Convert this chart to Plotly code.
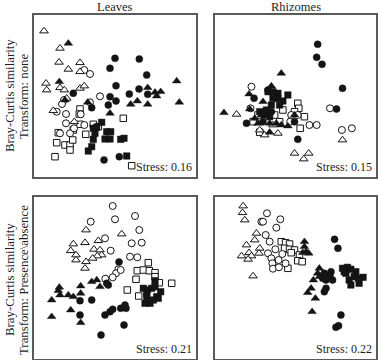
import plotly.graph_objects as go

# ---- data: NMDS ordination scores (axis units 0-162) ----
# Panel: Leaves, transform none
LN_open_tri = [(10,146),(26,128.7),(25,114.7),(34.3,107.7),(46,114.3),(46,105.3),(12,93.7),(12.7,87),
               (26,89.3),(30.3,87),(46,88.7),(50.3,91),(32.7,78.7),(19.3,66.3),(40.3,55.3)]
LN_fill_tri = [(34.3,133.7),(25.3,95.3),(31,77),(53.7,74.7),(76,63.7),(96.7,72.7),(103.3,76),(113.7,89.3),
               (113.7,72.7),(121,84.7),(122.7,81),(126.7,85.3),(142.7,96),(145.3,74.7)]
LN_fill_cir = [(81,118.7),(105.3,118),(76,108.7),(112.7,102),(82,91.3),(39.3,83.7),(57.7,69.3),(76,80.3),
               (95.3,83),(105,88),(113.7,82.7),(82,76),(74.3,72),(70,17),(85.3,20.3)]
LN_open_cir = [(50.3,107),(56,103),(30,77),(28,73),(22.7,65.3),(32,63),(66,80.7),(56,74.7),(32,53.7),
               (36,43.7),(40,48.7),(46.7,62.7),(50.3,52),(26,43.7)]
LN_open_sq = [(46,68),(45.3,63),(46,52.7),(59.3,52.7),(64.3,50.3),(51.7,42.7),(24.3,44.3),(31,32),(36,32),
              (38.7,37),(36,27),(22.7,34.3),(21,20.3),(89.3,58.7),(97.7,11.3),(39.3,47)]
LN_fill_sq = [(67.7,54.7),(62.7,49.7),(59.3,48.7),(61,43.7),(72.7,45.3),(76.7,45.3),(71,38),(76,38),
              (86.7,37.7),(90,38.7),(59.3,37.7),(57.7,30.3),(54.3,26),(92.7,21)]

# Panel: Rhizomes, transform none
RN_fill_cir = [(103.3,132.7),(102.3,119.7),(107.7,112.7),(128.3,88.7),(122.3,68),(83.3,37.7),(39.3,78.7),
               (31.7,53.7),(80,55.3),(53.3,87),(56.7,65.3),(50,65.3),(48.3,55.3)]
RN_fill_tri = [(66.7,103.7),(34.3,83),(9,64.3),(56.7,91),(48.3,75.3),(35,68),(46.7,62),(55,44.7),(73.3,51),
               (66.7,52),(80,62),(43.3,53.7),(61.7,53.7),(55,53.7),(40,58.7)]
RN_fill_sq = [(53.3,85.3),(58.3,85.3),(63.3,83.7),(63.3,78.7),(73.3,82),(68.3,76),(58.3,78.7),(65,72),
              (56.7,72),(51.7,67),(50,62),(55,60.3),(45,65.3)]
RN_open_tri = [(21.7,62.7),(50,42),(63.3,43.7),(80,23.7),(89.3,18),(94.3,23.7),(128.3,37),(45,47),(58.3,52)]
RN_open_cir = [(36.7,90.3),(35.7,68.7),(76.7,62),(83.3,62),(75.7,55.3),(95,52),(102.3,52),(115.7,68.7),
               (127.7,47),(137.7,48.7)]
RN_open_sq = [(83.3,73.7),(84.3,68.7),(68.3,67),(90,60.3),(85.7,48.7),(45,44.7),(38.3,55.3),(43.3,62),
              (65,55.3),(60,62),(80,65.3)]

# Panel: Leaves, transform presence/absence
LP_open_cir = [(78.7,153),(56.7,137.3),(81,139.7),(101,143),(105.3,129),(71,120.7),(97.7,115.7),(107.7,116.3),
               (76.7,108.3),(96,102.3),(103.3,101.7),(84.3,89.7),(82,85.7),(78.7,81.7),(71.3,80.3),(86.7,89)]
LP_open_tri = [(52,129),(87.7,125),(39.3,115),(51,116.3),(64.3,118.3),(36.7,108.3),(42,104),(42,99),
               (60,109.7),(66,109),(67.7,104),(63.3,103),(58.7,100.7),(52,97.3),(51,90.7)]
LP_fill_cir = [(85,97),(74.3,74),(46,58.3),(57.7,59),(46,44),(71,44),(76,47.3),(78.7,49.7),(86.7,50.7),
               (91,54),(92,50.7),(90,34),(67,24),(72.7,75.7)]
LP_fill_tri = [(25.3,71.7),(46.7,73),(57.7,77.3),(62.7,79),(66,72.3),(26,64),(34.3,64),(39.3,62.3),
               (46.7,65.7),(17.7,59),(36.7,49),(17.7,42.3),(46.7,36.3),(24.3,68.3)]
LP_open_sq = [(114.3,96.3),(103.3,88.3),(109.3,89),(115.3,88.3),(121,86.3),(102,79.7),(125.3,76.3),
              (137.7,75.7),(93.3,69),(104.7,63),(114.3,57.3),(121,82.3)]
LP_fill_sq = [(121,78.3),(109.3,70.7),(113.3,69),(117.7,70.7),(121,72.3),(126.7,67.3),(112.7,62.3),
              (122.7,62.3),(124.3,60.7),(119.3,59),(111,55.7),(116,55.7),(112.7,65.7)]

# Panel: Rhizomes, transform presence/absence
RP_open_tri = [(28.3,153),(27.7,146.3),(30,139),(41.7,125.7),(40,119),(31.7,114),(26.7,103),(34.3,106.3),
               (36.7,103),(45,110.7),(44.3,105.7),(33.3,99.7),(38.3,83)]
RP_open_cir = [(52.3,145.7),(65.7,139.7),(46.7,137.3),(48.3,137.3),(61.7,131.3),(51,124),(55,117.3),
               (60.7,109.7),(53.3,105.7),(56.7,100.7),(64,99),(57.7,95.7),(58.3,90.3),(64.3,91.7),
               (67.7,105),(71,95.7)]
RP_open_sq = [(66.7,117.3),(71,116.3),(75,115),(70,110.7),(75,109.7),(80,109),(76.7,106.3),(85,104),
              (83.3,98.3),(87.7,97.3),(73.3,90.7)]
RP_fill_tri = [(90,117.3),(90,112.3),(91.7,107.3),(88.3,106.3),(94.3,105.7),(105,90.7),(103.3,85.7),
               (108.3,85),(105,82.3),(99,79),(96.7,70.7),(93.3,66.3),(101,60.7),(97.7,47.3),(115,82.3)]
RP_fill_cir = [(120.3,119.7),(123.7,110.7),(110,85.7),(116.7,87.3),(111.7,79),(118.3,79),(108.3,80.7),
               (111.7,70.7),(110,67.3),(126.7,44),(121.7,31.7),(124.3,33.3),(115.7,84)]
RP_fill_sq = [(128.3,90.7),(133.3,91.7),(136.7,89.7),(141.7,87.3),(131.7,85.7),(140,82.3),(144.3,80.7),
              (149,81.7),(135,79),(145,75.7),(136.7,74),(130,87.3)]

COL_TITLES = ["Leaves", "Rhizomes"]
ROW_LABEL_1 = "Bray-Curtis similarity"
ROW_LABEL_2 = ["Transform: none", "Transform: Presence\\absence"]
STRESS = ["Stress: 0.16", "Stress: 0.15", "Stress: 0.21", "Stress: 0.22"]

PANELS = [
    dict(ot=LN_open_tri, ft=LN_fill_tri, oc=LN_open_cir, fc=LN_fill_cir, os=LN_open_sq, fs=LN_fill_sq),
    dict(ot=RN_open_tri, ft=RN_fill_tri, oc=RN_open_cir, fc=RN_fill_cir, os=RN_open_sq, fs=RN_fill_sq),
    dict(ot=LP_open_tri, ft=LP_fill_tri, oc=LP_open_cir, fc=LP_fill_cir, os=LP_open_sq, fs=LP_fill_sq),
    dict(ot=RP_open_tri, ft=RP_fill_tri, oc=RP_open_cir, fc=RP_fill_cir, os=RP_open_sq, fs=RP_fill_sq),
]

W, H = 378, 360
BLACK = "#141414"
STYLES = {
    "os": dict(symbol="square", size=6.5, color="white", line=dict(color=BLACK, width=1)),
    "oc": dict(symbol="circle", size=7, color="white", line=dict(color=BLACK, width=1)),
    "ot": dict(symbol="triangle-up", size=7.5, color="white", line=dict(color=BLACK, width=1)),
    "fs": dict(symbol="square", size=6.5, color=BLACK, line=dict(color=BLACK, width=0.5)),
    "fc": dict(symbol="circle", size=7, color=BLACK, line=dict(color=BLACK, width=0.5)),
    "ft": dict(symbol="triangle-up", size=7.5, color=BLACK, line=dict(color=BLACK, width=0.5)),
}
ORDER = ["os", "oc", "ot", "fs", "fc", "ft"]

# panel boxes in pixels: (left, right, top, bottom)
BOXES = [(34, 196, 15, 177), (215, 376, 15, 177), (34, 196, 197, 359), (215, 376, 197, 359)]

fig = go.Figure()
FONT = "Liberation Serif, Times New Roman, serif"
TXT = "#1e1e1e"

for i, (panel, box) in enumerate(zip(PANELS, BOXES)):
    n = "" if i == 0 else str(i + 1)
    for key in ORDER:
        pts = panel[key]
        fig.add_trace(go.Scatter(
            x=[p[0] for p in pts], y=[p[1] for p in pts], mode="markers",
            marker=STYLES[key], xaxis="x" + n, yaxis="y" + n,
            showlegend=False, hoverinfo="skip"))
    l, r, t, b = box
    ax = dict(range=[0, 162], showticklabels=False, ticks="", showgrid=False, zeroline=False,
              showline=True, mirror=True, linecolor="#5a5a5a", linewidth=1.5, fixedrange=True)
    fig.update_layout(**{
        "xaxis" + n: dict(ax, domain=[l / W, r / W], anchor="y" + n),
        "yaxis" + n: dict(ax, domain=[1 - b / H, 1 - t / H], anchor="x" + n),
    })
    fig.add_annotation(text=STRESS[i], xref="x" + n + " domain", yref="y" + n + " domain",
                       x=1, y=0, xanchor="right", yanchor="bottom", xshift=-2, yshift=1,
                       showarrow=False, font=dict(family=FONT, size=12, color=TXT))

# column titles
for title, cx in zip(COL_TITLES, [115, 296]):
    fig.add_annotation(text=title, xref="paper", yref="paper", x=cx / W, y=1 - 7 / H,
                       xanchor="center", yanchor="middle", showarrow=False,
                       font=dict(family=FONT, size=12.5, color=TXT))

# row labels
for lab2, cy in zip(ROW_LABEL_2, [96, 280]):
    fig.add_annotation(text=ROW_LABEL_1, xref="paper", yref="paper", x=10 / W, y=1 - cy / H,
                       xanchor="center", yanchor="middle", textangle=-90, showarrow=False,
                       font=dict(family=FONT, size=12.8, color=TXT))
    fig.add_annotation(text=lab2, xref="paper", yref="paper", x=24 / W, y=1 - cy / H,
                       xanchor="center", yanchor="middle", textangle=-90, showarrow=False,
                       font=dict(family=FONT, size=12.8, color=TXT))

fig.update_layout(width=W, height=H, margin=dict(l=0, r=0, t=0, b=0),
                  paper_bgcolor="white", plot_bgcolor="white")

fig.write_html("out.html", config={"displayModeBar": False},
               post_script="document.body.style.margin='0';document.body.style.overflow='hidden';")
